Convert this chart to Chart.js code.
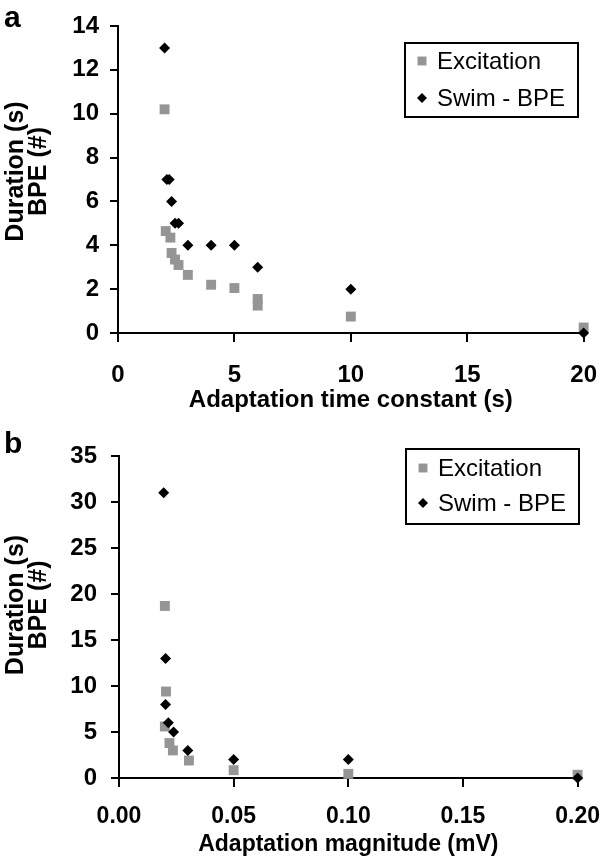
<!DOCTYPE html>
<html>
<head>
<meta charset="utf-8">
<script src="https://cdn.jsdelivr.net/npm/chart.js@4.4.0/dist/chart.umd.min.js"></script>
<style>
    body { margin: 0; background: #fff; }
    .panel { position: absolute; left: 0; }
    #wrapA { top: 0; }
    #wrapB { top: 420px; }
</style>
</head>
<body>
<div class="panel" id="wrapA"><canvas id="chartA" width="616" height="420"></canvas></div>
<div class="panel" id="wrapB"><canvas id="chartB" width="616" height="441"></canvas></div>
<script>
// panel a : adaptation time constant (s)
var tauExcX  = [2, 2.05, 2.25, 2.3, 2.45, 2.6, 3, 4, 5, 6, 6, 10, 20];
var tauExcY  = [10.2, 4.65, 4.35, 3.65, 3.35, 3.1, 2.65, 2.2, 2.05, 1.55, 1.25, 0.75, 0.25];
var tauSwimX = [2, 2.1, 2.2, 2.3, 2.45, 2.6, 3, 4, 5, 6, 10, 20];
var tauSwimY = [13, 7, 7, 6, 5, 5, 4, 4, 4, 3, 2, 0];
var tauTicksX = [0, 5, 10, 15, 20];
var tauTicksY = [0, 2, 4, 6, 8, 10, 12, 14];

// panel b : adaptation magnitude (mV)
var magExcX  = [0.02, 0.0205, 0.02, 0.022, 0.0235, 0.0305, 0.05, 0.1, 0.2];
var magExcY  = [18.7, 9.4, 5.6, 3.8, 3.0, 1.9, 0.85, 0.45, 0.35];
var magSwimX = [0.0195, 0.0203, 0.0203, 0.0215, 0.0238, 0.03, 0.05, 0.1, 0.2];
var magSwimY = [31, 13, 8, 6, 5, 3, 2, 2, 0];
var magTicksX = [0, 0.05, 0.1, 0.15, 0.2];
var magTicksY = [0, 5, 10, 15, 20, 25, 30, 35];

var seriesNames = ['Excitation', 'Swim - BPE'];
var yTitleLines = ['Duration (s)', 'BPE (#)'];
var FONT = '"Liberation Sans", Arial, sans-serif';

/////////////////////////////////////////////////////////////////////////////////

function toPoints(xs, ys) {
    return xs.map(function (x, i) { return {x: x, y: ys[i]}; });
}

// boxed legend, panel letter and the two-line y title
const boxLegend = {
    id: 'boxLegend',
    afterDraw(chart, args, opts) {
        const ctx = chart.ctx;
        const area = chart.chartArea;
        ctx.save();
        ctx.fillStyle = '#000';
        ctx.font = 'bold 30px ' + FONT;
        ctx.textBaseline = 'alphabetic';
        ctx.textAlign = 'left';
        ctx.fillText(opts.letter, opts.letterX, opts.letterY);

        // y title, rotated
        ctx.save();
        ctx.translate(0, (area.top + area.bottom) / 2 + opts.titleShift);
        ctx.rotate(-Math.PI / 2);
        ctx.font = 'bold 25px ' + FONT;
        ctx.textAlign = 'center';
        ctx.textBaseline = 'middle';
        yTitleLines.forEach(function (t, i) {
            ctx.fillText(t, 0, 16 + i * 23);
        });
        ctx.restore();

        ctx.fillStyle = '#fff';
        ctx.fillRect(opts.left, opts.top, opts.width, opts.height);
        ctx.lineWidth = 2;
        ctx.strokeStyle = '#000';
        ctx.strokeRect(opts.left, opts.top, opts.width, opts.height);

        ctx.font = '24px ' + FONT;
        ctx.textAlign = 'left';
        ctx.textBaseline = 'middle';
        chart.data.datasets.forEach(function (ds, i) {
            const y = opts.top + opts.rowTop + i * opts.rowGap;
            ctx.fillStyle = ds.backgroundColor;
            Chart.helpers.drawPoint(ctx, {
                pointStyle: ds.pointStyle,
                radius: opts.markerRadius[i],
                borderWidth: 0
            }, opts.left + 17, y);
            ctx.fillStyle = '#000';
            ctx.fillText(ds.label, opts.left + 32, y + 1);
        });
        ctx.restore();
    }
};

function makeScatter(canvasId, cfg) {
    return new Chart(document.getElementById(canvasId), {
        type: 'scatter',
        data: {
            datasets: [{
                label: seriesNames[0],
                data: toPoints(cfg.excX, cfg.excY),
                pointStyle: 'rect',
                pointRadius: 7,
                backgroundColor: '#959595',
                borderWidth: 0,
                order: 2,
                clip: false
            }, {
                label: seriesNames[1],
                data: toPoints(cfg.swimX, cfg.swimY),
                pointStyle: 'rectRot',
                pointRadius: 5.5,
                backgroundColor: '#000',
                borderWidth: 0,
                order: 1,
                clip: false
            }]
        },
        options: {
            responsive: false,
            animation: false,
            events: [],
            layout: {padding: {left: 0, top: cfg.top, right: cfg.right, bottom: 0}},
            plugins: {
                legend: {display: false},
                tooltip: {enabled: false},
                boxLegend: cfg.legend
            },
            scales: {
                x: {
                    type: 'linear',
                    min: cfg.ticksX[0],
                    max: cfg.ticksX[cfg.ticksX.length - 1],
                    afterBuildTicks: function (scale) {
                        scale.ticks = cfg.ticksX.map(function (v) { return {value: v}; });
                    },
                    afterFit: function (scale) { scale.height = cfg.xHeight; },
                    grid: {drawOnChartArea: false, drawTicks: true, tickLength: 9, color: '#000', lineWidth: 2},
                    border: {display: true, color: '#000', width: 2},
                    ticks: {
                        color: '#000',
                        font: {family: FONT, size: cfg.xTickSize, weight: 'bold'},
                        padding: cfg.xTickPad,
                        maxRotation: 0,
                        callback: cfg.fmtX
                    },
                    title: {
                        display: true,
                        text: cfg.titleX,
                        color: '#000',
                        font: {family: FONT, size: cfg.xTitleSize, weight: 'bold', lineHeight: 1},
                        padding: {top: 0, bottom: cfg.xTitlePad}
                    }
                },
                y: {
                    type: 'linear',
                    min: cfg.ticksY[0],
                    max: cfg.ticksY[cfg.ticksY.length - 1],
                    afterBuildTicks: function (scale) {
                        scale.ticks = cfg.ticksY.map(function (v) { return {value: v}; });
                    },
                    afterFit: function (scale) { scale.width = cfg.yWidth; },
                    grid: {drawOnChartArea: false, drawTicks: true, tickLength: 8, color: '#000', lineWidth: 2},
                    border: {display: true, color: '#000', width: 2},
                    ticks: {color: '#000', font: {family: FONT, size: 24, weight: 'bold'}, padding: cfg.yTickPad},
                    title: {display: false}
                }
            }
        },
        plugins: [boxLegend]
    });
}

/////////////////////////////////////////////////////////////////////////////////

var chartA = makeScatter('chartA', {
    excX: tauExcX, excY: tauExcY, swimX: tauSwimX, swimY: tauSwimY,
    ticksX: tauTicksX, ticksY: tauTicksY,
    titleX: 'Adaptation time constant (s)',
    fmtX: function (v) { return v; },
    xTickSize: 24, xTitleSize: 24,
    top: 26, right: 29, yWidth: 118, xHeight: 87,
    xTickPad: 19, xTitlePad: 8, yTickPad: 11,
    legend: {
        letter: 'a', letterX: 4, letterY: 27, titleShift: -8,
        left: 405, top: 43, width: 173, height: 74,
        rowTop: 18, rowGap: 37, markerRadius: [6.3, 5]
    }
});

var chartB = makeScatter('chartB', {
    excX: magExcX, excY: magExcY, swimX: magSwimX, swimY: magSwimY,
    ticksX: magTicksX, ticksY: magTicksY,
    titleX: 'Adaptation magnitude (mV)',
    fmtX: function (v) { return v.toFixed(2); },
    xTickSize: 23, xTitleSize: 23,
    top: 36, right: 26, yWidth: 119, xHeight: 83,
    xTickPad: 16, xTitlePad: 5, yTickPad: 14,
    legend: {
        letter: 'b', letterX: 4, letterY: 33, titleShift: -12,
        left: 406, top: 29, width: 173, height: 75,
        rowTop: 19, rowGap: 35, markerRadius: [6.3, 5]
    }
});
</script>
</body>
</html>
